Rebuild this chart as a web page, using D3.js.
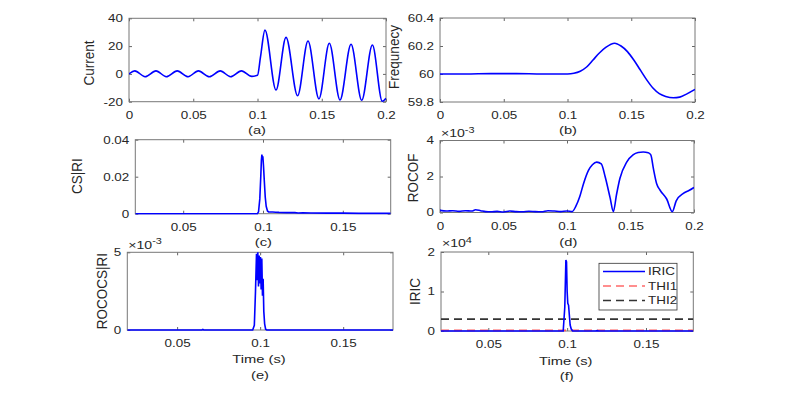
<!DOCTYPE html>
<html>
<head>
<meta charset="utf-8">
<title>Fault detection signals</title>
<script src="https://d3js.org/d3.v7.min.js"></script>
<style>
  body { margin: 0; background: #fff; }
  text { font-family: "Liberation Sans", Arial, sans-serif; fill: #262626; }
</style>
</head>
<body>
<div id="chart"></div>
<script>
  // (a) current waveform, read at peaks / troughs
  const curT = [0, 0.0045, 0.0125, 0.021, 0.029, 0.0375, 0.046, 0.054, 0.0625, 0.071, 0.079, 0.0875, 0.0955, 0.1, 0.1023,
    0.1058, 0.1144, 0.1222, 0.1312, 0.1393, 0.1478, 0.1559, 0.1642, 0.1728, 0.1811, 0.1894, 0.1971, 0.2];
  const curV = [0, 2.2, -2, 2.2, -2, 2.2, -2, 2.2, -2, 2.2, -2, 2.2, -1.8, -1.0, 12,
    31.5, -11.6, 26.3, -15.7, 23.7, -18, 22, -18.8, 21.3, -19, 20.8, -19.7, -17.5];

  // (b) frequency
  const freqT = [0, 0.02, 0.04, 0.06, 0.08, 0.1, 0.105, 0.11, 0.115, 0.12, 0.125, 0.13, 0.137, 0.142, 0.147,
    0.152, 0.157, 0.162, 0.167, 0.172, 0.177, 0.183, 0.188, 0.194, 0.2];
  const freqV = [60.0, 60.0, 60.003, 60.003, 60.0, 60.0, 60.005, 60.02, 60.05, 60.1, 60.15, 60.19, 60.22, 60.2, 60.16,
    60.1, 60.03, 59.96, 59.9, 59.86, 59.84, 59.83, 59.835, 59.86, 59.89];

  // (c) CS|RI
  const csT = [0.02, 0.0965, 0.0972, 0.098, 0.0986, 0.099, 0.0993, 0.0996, 0.0999, 0.1003, 0.1008, 0.1014, 0.102,
    0.1028, 0.1035, 0.106, 0.108, 0.11, 0.115, 0.12, 0.122, 0.125, 0.13, 0.14, 0.15, 0.16, 0.17, 0.18];
  const csV = [0, 0, 0.001, 0.008, 0.02, 0.029, 0.032, 0.03, 0.031, 0.026, 0.018, 0.009, 0.004,
    0.0015, 0.001, 0.0009, 0.0008, 0.0007, 0.0006, 0.0006, 0.0004, 0.0005, 0.0004, 0.0003, 0.0003, 0.0002, 0.0002, 0.0002];

  // (d) ROCOF, x 10^-3
  const rocofT = [0, 0.005, 0.01, 0.015, 0.02, 0.025, 0.028, 0.032, 0.036, 0.04, 0.045, 0.05, 0.055, 0.06, 0.065,
    0.07, 0.075, 0.08, 0.085, 0.09, 0.095, 0.1, 0.104, 0.107, 0.11, 0.113, 0.117, 0.12, 0.1234, 0.127, 0.13, 0.134,
    0.1365, 0.139, 0.1417, 0.147, 0.152, 0.156, 0.16, 0.164, 0.166, 0.168, 0.1706, 0.1732, 0.1785, 0.1829, 0.186,
    0.1916, 0.196, 0.2];
  const rocofV = [0.12, 0.08, 0.1, 0.06, 0.1, 0.08, 0.15, 0.1, 0.05, 0.04, 0.06, 0.03, 0.08, 0.05, 0.04,
    0.07, 0.05, 0.04, 0.1, 0.08, 0.05, 0.08, 0.05, 0.35, 0.87, 1.6, 2.35, 2.65, 2.8, 2.7, 2.0, 0.8,
    0.05, 1.0, 1.9, 2.8, 3.2, 3.33, 3.36, 3.32, 3.2, 2.45, 1.6, 1.25, 0.75, 0.05, 0.65,
    1.06, 1.22, 1.39];

  // (e) ROCOCS|RI, x 10^-3
  const rocoT = [0.02, 0.065, 0.0655, 0.066, 0.0955, 0.0965, 0.0972, 0.0978, 0.0982, 0.0986, 0.099, 0.0994, 0.0998,
    0.1002, 0.1006, 0.101, 0.1014, 0.1018, 0.1022, 0.1027, 0.1033, 0.104, 0.18];
  const rocoV = [0, 0, 0.04, 0, 0, 0.3, 2.5, 4.9, 3.2, 5.0, 2.8, 4.8, 3.0,
    4.7, 2.6, 4.6, 2.2, 3.3, 1.2, 0.4, 0.05, 0, 0];

  // (f) IRIC and thresholds, x 10^4
  const iricT = [0.02, 0.0975, 0.0985, 0.0992, 0.0996, 0.1, 0.1004, 0.1009, 0.1014, 0.1019, 0.1026, 0.1035,
    0.118, 0.119, 0.12, 0.18];
  const iricV = [0, 0, 0.6, 1.8, 1.75, 1.0, 0.7, 0.65, 0.4, 0.15, 0.05, 0, 0, 0.01, 0, 0];
  const thi1 = 0.015;
  const thi2 = 0.3;
  const legendNames = ["IRIC", "THI1", "THI2"];

  // tick values
  const ticksFull = [0, 0.05, 0.1, 0.15, 0.2];
  const ticksZoom = [0.05, 0.1, 0.15];

  const width = 793, height = 393;
  const sx = 1.28;   // text in the picture is stretched sideways
  const tickFont = "10.5px";
  const blue = "#0000ff";

  const svg = d3.select("#chart")
          .append("svg")
          .attr("width", width)
          .attr("height", height);

  function panel(p) {
    const x = d3.scaleLinear().domain(p.xDomain).range([p.left, p.right]);
    const y = d3.scaleLinear().domain(p.yDomain).range([p.bottom, p.top]);
    const g = svg.append("g");

    const clipId = "clip-" + p.id;
    g.append("clipPath").attr("id", clipId)
            .append("rect")
            .attr("x", p.left).attr("y", p.top - 1)
            .attr("width", p.right - p.left).attr("height", p.bottom - p.top + 2);

    const bottom = g.append("g")
            .attr("transform", `translate(0,${p.bottom})`)
            .call(d3.axisBottom(x).tickValues(p.xTicks).tickFormat(d => String(d))
                    .tickSizeInner(-3).tickSizeOuter(0).tickPadding(10));
    const top = g.append("g")
            .attr("transform", `translate(0,${p.top})`)
            .call(d3.axisTop(x).tickValues(p.xTicks).tickFormat("")
                    .tickSizeInner(-3).tickSizeOuter(0));
    const left = g.append("g")
            .attr("transform", `translate(${p.left},0)`)
            .call(d3.axisLeft(y).tickValues(p.yTicks).tickFormat(d => String(d))
                    .tickSizeInner(-3).tickSizeOuter(0).tickPadding(6));
    const right = g.append("g")
            .attr("transform", `translate(${p.right},0)`)
            .call(d3.axisRight(y).tickValues(p.yTicks).tickFormat("")
                    .tickSizeInner(-3).tickSizeOuter(0));

    [bottom, top, left, right].forEach(a => {
      a.select(".domain").remove();
      a.selectAll("line").attr("stroke", "#666");
      a.selectAll("text").attr("fill", "#262626").style("font-size", tickFont);
    });
    bottom.selectAll("text").attr("transform", `scale(${sx},1)`);
    left.selectAll("text").attr("x", -6 / sx).attr("transform", `scale(${sx},1)`);

    g.append("rect")
            .attr("x", p.left).attr("y", p.top)
            .attr("width", p.right - p.left).attr("height", p.bottom - p.top)
            .attr("fill", "none").attr("stroke", "#777").attr("stroke-width", 1);

    // y label
    g.append("text")
            .attr("transform", `translate(${p.ylabX},${p.ylabY}) scale(1.1,1) rotate(-90)`)
            .attr("text-anchor", "middle")
            .attr("dy", "0.35em")
            .style("font-size", "13.5px")
            .text(p.ylabel);

    // exponent
    if (p.exp) {
      const e = g.append("text")
              .attr("transform", `translate(${p.left + 1},${p.expY}) scale(${sx},1)`)
              .style("font-size", "11px");
      e.append("tspan").text("\u00d710");
      e.append("tspan").attr("dy", -4.5).style("font-size", "8.5px").text(p.exp);
    }

    // captions under the panel
    if (p.xlabel) {
      g.append("text")
              .attr("transform", `translate(${p.xlabX},${p.xlabY}) scale(${sx},1)`)
              .attr("text-anchor", "middle")
              .style("font-size", "11.5px")
              .text(p.xlabel);
    }
    g.append("text")
            .attr("transform", `translate(${p.capX},${p.capY}) scale(${sx},1)`)
            .attr("text-anchor", "middle")
            .style("font-size", "11.5px")
            .text(p.caption);

    const plot = g.append("g").attr("clip-path", `url(#${clipId})`);
    return {x, y, g, plot};
  }

  function drawLine(pan, T, V, curve, color, dash) {
    const line = d3.line()
            .x(d => pan.x(d[0]))
            .y(d => pan.y(d[1]))
            .curve(curve);
    pan.plot.append("path")
            .datum(d3.zip(T, V))
            .attr("fill", "none")
            .attr("stroke", color)
            .attr("stroke-width", 1.6)
            .attr("stroke-dasharray", dash || null)
            .attr("d", line);
  }

  // (a)
  const pa = panel({id: "a", left: 129, right: 386, top: 18.3, bottom: 101.7,
    xDomain: [0, 0.2], yDomain: [-20, 40], xTicks: ticksFull, yTicks: [-20, 0, 20, 40],
    ylabel: "Current", ylabX: 89, ylabY: 63, caption: "(a)", capX: 257, capY: 134.3});
  drawLine(pa, curT, curV, d3.curveMonotoneX, blue);

  // (b)
  const pb = panel({id: "b", left: 440, right: 695, top: 18, bottom: 102,
    xDomain: [0, 0.2], yDomain: [59.8, 60.4], xTicks: ticksFull, yTicks: [59.8, 60, 60.2, 60.4],
    ylabel: "Frequnecy", ylabX: 393.5, ylabY: 57, caption: "(b)", capX: 568, capY: 134.3});
  drawLine(pb, freqT, freqV, d3.curveMonotoneX, blue);

  // (c)
  const pc = panel({id: "c", left: 135.3, right: 390.7, top: 139.7, bottom: 213.7,
    xDomain: [0.02, 0.18], yDomain: [0, 0.04], xTicks: ticksZoom, yTicks: [0, 0.02, 0.04],
    ylabel: "CS|RI", ylabX: 77, ylabY: 176, caption: "(c)", capX: 263.3, capY: 246});
  drawLine(pc, csT, csV, d3.curveLinear, blue);

  // (d)
  const pd = panel({id: "d", left: 440, right: 694, top: 140.5, bottom: 212.5,
    xDomain: [0, 0.2], yDomain: [0, 4], xTicks: ticksFull, yTicks: [0, 2, 4],
    ylabel: "ROCOF", ylabX: 413, ylabY: 178, caption: "(d)", capX: 568.3, capY: 246,
    exp: "-3", expY: 137});
  drawLine(pd, rocofT, rocofV, d3.curveMonotoneX, blue);

  // (e)
  const pe = panel({id: "e", left: 127.3, right: 393, top: 252.3, bottom: 330,
    xDomain: [0.02, 0.18], yDomain: [0, 5], xTicks: ticksZoom, yTicks: [0, 5],
    ylabel: "ROCOCS|RI", ylabX: 101.7, ylabY: 291, xlabel: "Time (s)", xlabX: 259, xlabY: 363,
    caption: "(e)", capX: 260, capY: 378.5, exp: "-3", expY: 248.5});
  drawLine(pe, rocoT, rocoV, d3.curveLinear, blue);

  // (f)
  const pf = panel({id: "f", left: 441, right: 693.3, top: 252, bottom: 331,
    xDomain: [0.02, 0.18], yDomain: [0, 2], xTicks: ticksZoom, yTicks: [0, 1, 2],
    ylabel: "IRIC", ylabX: 415, ylabY: 291.5, xlabel: "Time (s)", xlabX: 565.7, xlabY: 365,
    caption: "(f)", capX: 566.7, capY: 379.5, exp: "4", expY: 247});
  drawLine(pf, [0.02, 0.18], [thi2, thi2], d3.curveLinear, "#333", "8,5");
  drawLine(pf, [0.02, 0.18], [thi1, thi1], d3.curveLinear, "#ff5a5a", "8,5");
  drawLine(pf, iricT, iricV, d3.curveLinear, blue);

  // legend
  const legendStyle = [
    {color: blue, dash: null},
    {color: "#ff6a6a", dash: "8,5"},
    {color: "#333", dash: "8,5"}
  ];
  const lg = svg.append("g");
  lg.append("rect")
          .attr("x", 599).attr("y", 263.3).attr("width", 78).attr("height", 46.7)
          .attr("fill", "#fff").attr("stroke", "#333").attr("stroke-width", 0.8);
  const rowY = d3.scalePoint().domain(legendNames).range([271.5, 300.5]);
  legendNames.forEach((name, i) => {
    lg.append("line")
            .attr("x1", 603).attr("x2", 645)
            .attr("y1", rowY(name)).attr("y2", rowY(name))
            .attr("stroke", legendStyle[i].color)
            .attr("stroke-width", 1.4)
            .attr("stroke-dasharray", legendStyle[i].dash);
    lg.append("text")
            .attr("transform", `translate(648,${rowY(name)}) scale(${sx},1)`)
            .attr("dy", "0.35em")
            .style("font-size", "10.5px")
            .text(name);
  });
</script>
</body>
</html>
